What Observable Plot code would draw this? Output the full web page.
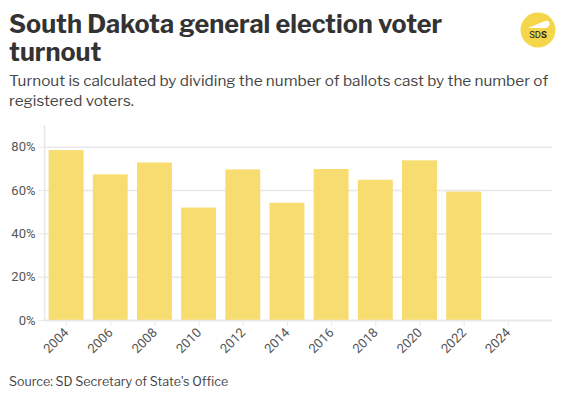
<!DOCTYPE html>
<html>
<head>
<meta charset="utf-8">
<script src="https://cdn.jsdelivr.net/npm/d3@7"></script>
<script src="https://cdn.jsdelivr.net/npm/@observablehq/plot@0.6"></script>
<style>
  body { margin: 0; background: #fff; font-family: "Libre Franklin", Roboto, "Noto Sans", sans-serif; width: 571px; height: 400px; overflow: hidden; position: relative; }
  #title { position: absolute; left: 9px; top: 10px; width: 500px; font-size: 25.2px; font-weight: 700; line-height: 28px; color: #333; }
  #subtitle { position: absolute; left: 9px; top: 71px; width: 560px; font-size: 15.3px; line-height: 20px; color: #444; }
  #chart { position: absolute; left: 0; top: 112px; }
  #source { position: absolute; left: 9px; top: 374px; font-size: 12.5px; color: #444; }
  #logo { position: absolute; left: 520px; top: 12px; }
</style>
</head>
<body>
<div id="title">South Dakota general election voter turnout</div>
<div id="subtitle">Turnout is calculated by dividing the number of ballots cast by the number of registered voters.</div>
<div id="chart"></div>
<div id="source">Source: SD Secretary of State's Office</div>
<svg id="logo" width="36" height="36" viewBox="0 0 36 36">
  <circle cx="18" cy="18" r="17.5" fill="#f5d54a"/>
  <path d="M8 16 L25 9 Q30 8 29.5 13 L27 16 Z" fill="#fff"/>
  <text x="18" y="26" text-anchor="middle" font-family="Roboto, sans-serif" font-size="9.5" fill="#222">SD<tspan font-weight="700">S</tspan></text>
</svg>
<script>
const years = [2004, 2006, 2008, 2010, 2012, 2014, 2016, 2018, 2020, 2022];
const turnout = [0.784, 0.672, 0.727, 0.519, 0.695, 0.541, 0.697, 0.647, 0.737, 0.593];
const tickYears = [2004, 2006, 2008, 2010, 2012, 2014, 2016, 2018, 2020, 2022, 2024];
const yTicks = [0, 0.2, 0.4, 0.6, 0.8];

const data = years.map((y, i) => ({year: y, turnout: turnout[i]}));

const chart = Plot.plot({
  width: 571,
  height: 260,
  marginLeft: 44,
  marginRight: 19,
  marginTop: 13,
  marginBottom: 52,
  style: {fontFamily: "Roboto, 'Noto Sans', sans-serif", fontSize: "12px"},
  x: {domain: [2003, 2026]},
  y: {domain: [0, 0.9]},
  marks: [
    Plot.gridY(yTicks, {stroke: "#e8e8e8", strokeOpacity: 1, strokeWidth: 1.5}),
    Plot.rectY(data, {x1: d => d.year - 0.79, x2: d => d.year + 0.79, y: "turnout", fill: "#f7dc6f"}),
    Plot.ruleX([2003], {stroke: "#e8e8e8", strokeWidth: 1.5}),
    Plot.ruleY([0], {stroke: "#e8e8e8", strokeWidth: 1.5}),
    Plot.axisY(yTicks, {tickSize: 6, tickPadding: 3, stroke: "#e8e8e8", fill: "#555", fontSize: 13, tickFormat: d => Math.round(d * 100) + "%", label: null}),
    Plot.axisX(tickYears, {tickSize: 6, tickPadding: 4, tickRotate: -45, stroke: "#e8e8e8", fill: "#555", fontSize: 13, tickFormat: d => String(d), label: null})
  ]
});
document.getElementById("chart").appendChild(chart);
</script>
</body>
</html>
